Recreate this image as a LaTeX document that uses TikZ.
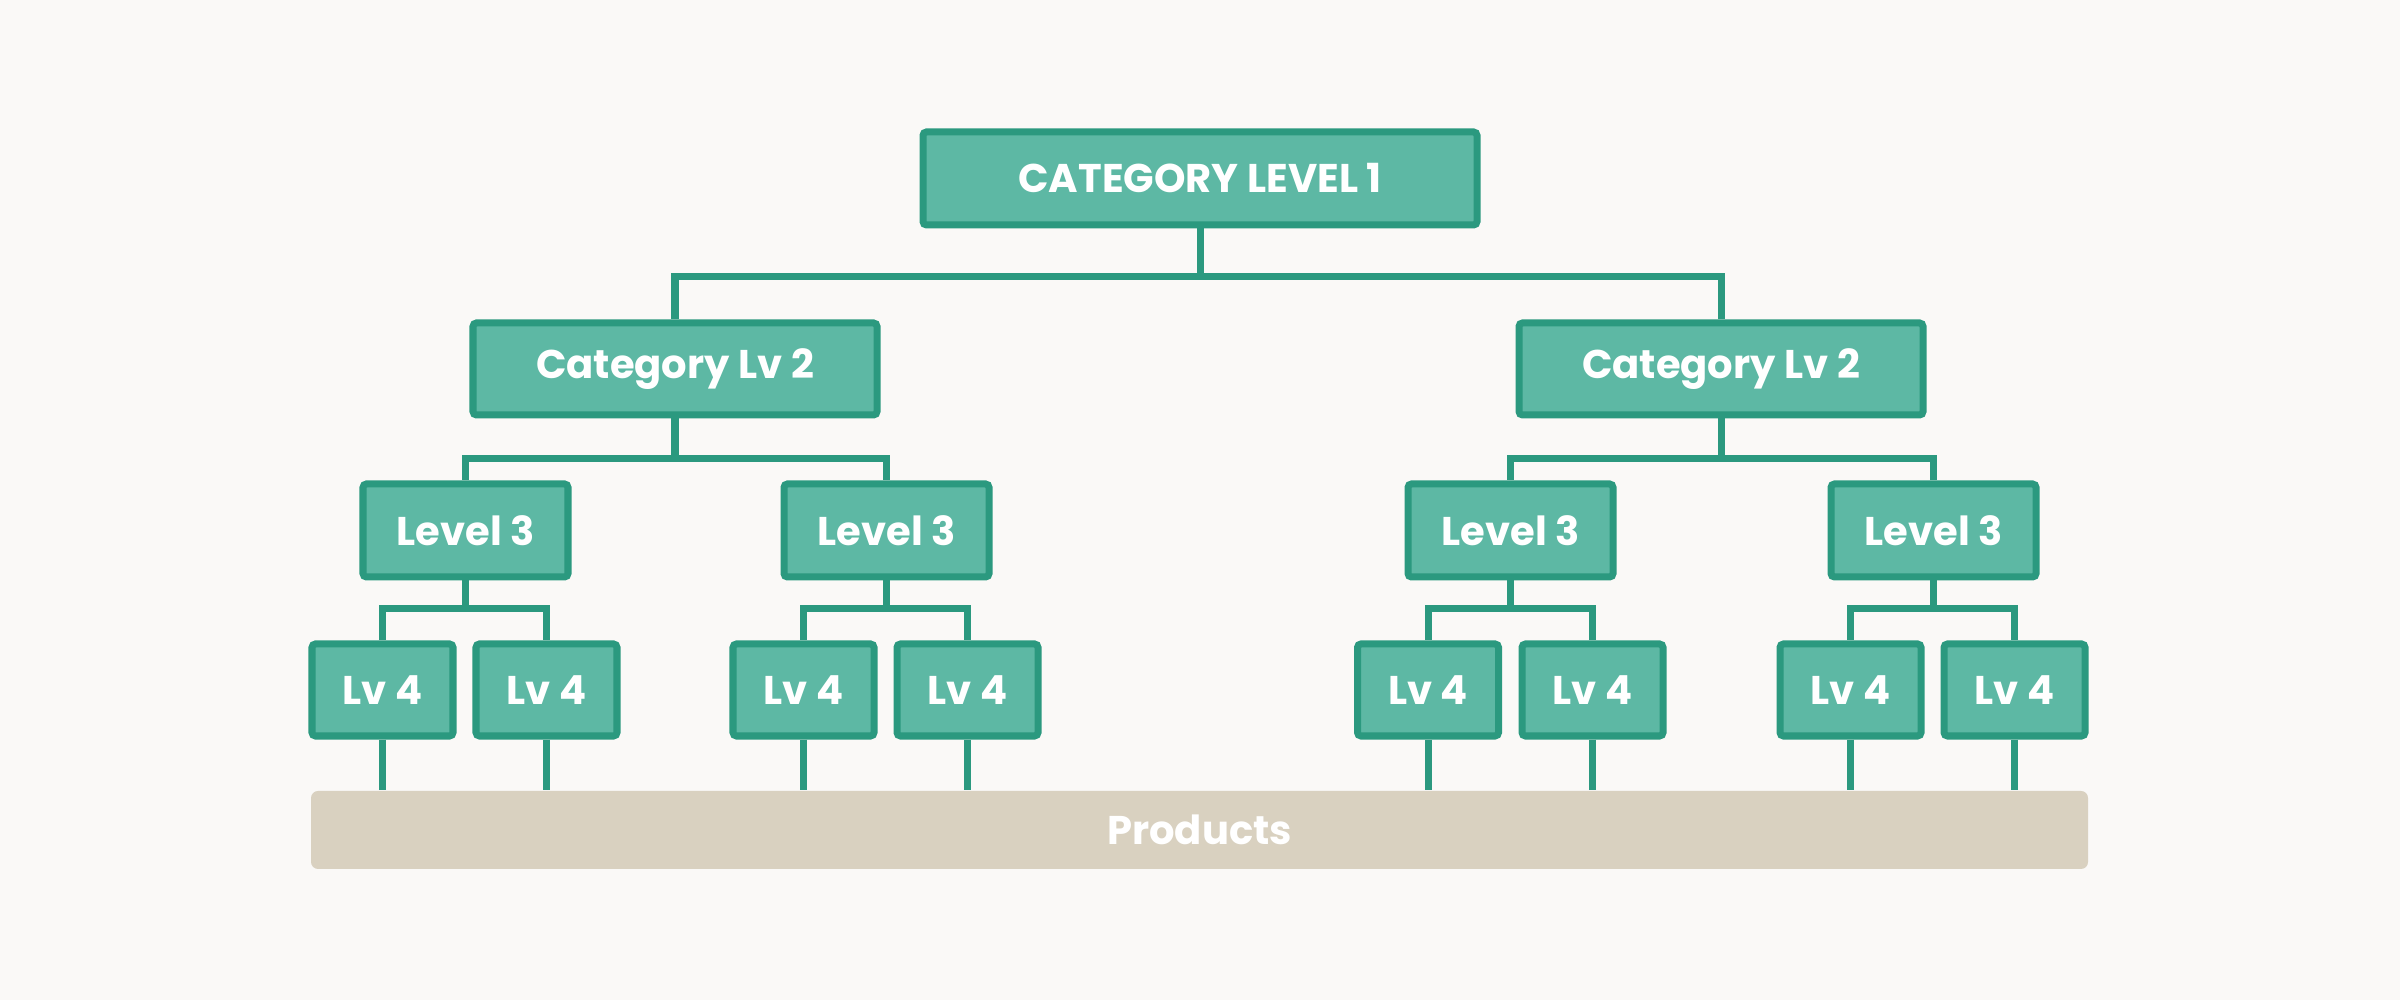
\documentclass[tikz,border=0pt]{standalone}
\usepackage{fontspec}
\setmainfont{Poppins}
\usepackage{tikz}
\usetikzlibrary{positioning}

\definecolor{bgcol}{HTML}{FAF9F7}
\definecolor{boxfill}{HTML}{5DB8A4}
\definecolor{boxline}{HTML}{2B997F}
\definecolor{prodfill}{HTML}{D9D1C0}

\begin{document}
\begin{tikzpicture}[
    box/.style={fill=boxfill,draw=boxline,line width=2pt,rounded corners=1pt,
      text=white,font=\bfseries\fontsize{11.4}{13}\selectfont,inner sep=0pt},
    lv1/.style={box,minimum width=5.54cm,minimum height=0.93cm},
    lv2/.style={box,minimum width=4.04cm,minimum height=0.92cm},
    lv3/.style={box,minimum width=2.05cm,minimum height=0.93cm},
    lv4/.style={box,minimum width=1.41cm,minimum height=0.92cm},
    link/.style={draw=boxline,line width=2pt}
  ]
  \fill[bgcol] (0,0) rectangle (24,10);
  \useasboundingbox (0,0) rectangle (24,10);

  \node [lv1] (c1)  at (12,8.215)   {CATEGORY LEVEL 1};

  \node [lv2] (c2a) at (6.75,6.31)  {Category Lv 2};
  \node [lv2] (c2b) at (17.21,6.31) {Category Lv 2};

  \node [lv3] (c3a) at (4.655,4.695)  {Level 3};
  \node [lv3] (c3b) at (8.865,4.695)  {Level 3};
  \node [lv3] (c3c) at (15.105,4.695) {Level 3};
  \node [lv3] (c3d) at (19.335,4.695) {Level 3};

  \node [lv4] (c4a) at (3.825,3.10)  {Lv 4};
  \node [lv4] (c4b) at (5.465,3.10)  {Lv 4};
  \node [lv4] (c4c) at (8.035,3.10)  {Lv 4};
  \node [lv4] (c4d) at (9.675,3.10)  {Lv 4};
  \node [lv4] (c4e) at (14.28,3.10)  {Lv 4};
  \node [lv4] (c4f) at (15.925,3.10) {Lv 4};
  \node [lv4] (c4g) at (18.505,3.10) {Lv 4};
  \node [lv4] (c4h) at (20.145,3.10) {Lv 4};

  \node [fill=prodfill,rounded corners=2pt,minimum width=17.77cm,minimum height=0.78cm,
    text=white,font=\bfseries\fontsize{11.4}{13}\selectfont,inner sep=0pt]
    (prod) at (11.995,1.70) {Products};

  % level 1 to level 2
  \draw [link] (c1.south) -- ++(0,-0.48) -| (c2a.north);
  \draw [link] (c1.south) -- ++(0,-0.48) -| (c2b.north);

  % level 2 to level 3
  \draw [link] (c2a.south) -- ++(0,-0.40) -| (c3a.north);
  \draw [link] (c2a.south) -- ++(0,-0.40) -| (c3b.north);
  \draw [link] (c2b.south) -- ++(0,-0.40) -| (c3c.north);
  \draw [link] (c2b.south) -- ++(0,-0.40) -| (c3d.north);

  % level 3 to level 4
  \draw [link] (c3a.south) -- ++(0,-0.28) -| (c4a.north);
  \draw [link] (c3a.south) -- ++(0,-0.28) -| (c4b.north);
  \draw [link] (c3b.south) -- ++(0,-0.28) -| (c4c.north);
  \draw [link] (c3b.south) -- ++(0,-0.28) -| (c4d.north);
  \draw [link] (c3c.south) -- ++(0,-0.28) -| (c4e.north);
  \draw [link] (c3c.south) -- ++(0,-0.28) -| (c4f.north);
  \draw [link] (c3d.south) -- ++(0,-0.28) -| (c4g.north);
  \draw [link] (c3d.south) -- ++(0,-0.28) -| (c4h.north);

  % level 4 to products
  \foreach \n in {a,b,c,d,e,f,g,h}
    \draw [link] (c4\n.south) -- (c4\n.south |- prod.north);
\end{tikzpicture}
\end{document}
